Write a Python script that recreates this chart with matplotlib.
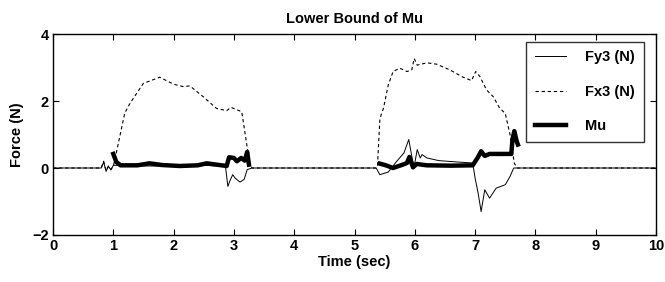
import numpy as np
import matplotlib
matplotlib.use('Agg')
import matplotlib.pyplot as plt

# Fx3 (dashed) - force breakpoints
fx3_t = [0.0, 0.80, 0.84, 0.88, 0.92, 0.96, 1.00, 1.05, 1.19, 1.28, 1.50, 1.61, 1.77,
         2.00, 2.16, 2.27, 2.49, 2.71, 2.88, 2.95, 3.13, 3.21, 3.26, 3.30,
         5.36, 5.38, 5.42, 5.44, 5.48, 5.56, 5.64, 5.75, 5.87, 5.95, 5.99, 6.04,
         6.20, 6.36, 6.58, 6.80, 6.94, 7.01, 7.08, 7.19, 7.30, 7.41, 7.50, 7.58,
         7.65, 7.70, 10.0]
fx3_f = [0.0, 0.0, 0.20, -0.08, 0.06, -0.04, 0.05, 0.45, 1.64, 1.94, 2.53, 2.60, 2.71,
         2.50, 2.43, 2.45, 2.13, 1.78, 1.71, 1.81, 1.68, 0.74, 0.14, 0.0,
         0.0, 0.04, 1.43, 1.58, 1.78, 2.48, 2.88, 2.98, 2.88, 2.93, 3.27, 3.07,
         3.14, 3.10, 2.93, 2.71, 2.61, 2.88, 2.73, 2.33, 2.13, 1.78, 1.63, 0.99,
         0.14, 0.0, 0.0]

# Fy3 (thin solid)
fy3_t = [0.0, 0.80, 0.84, 0.88, 0.92, 0.96, 1.00, 1.10, 1.50, 2.00, 2.50, 2.86,
         2.90, 2.93, 2.98, 3.02, 3.10, 3.17, 3.22, 3.30,
         5.36, 5.42, 5.56, 5.70, 5.82, 5.90, 5.96, 5.99, 6.04, 6.09, 6.12, 6.20,
         6.40, 6.70, 6.96, 7.00, 7.05, 7.10, 7.16, 7.24, 7.35, 7.50, 7.58, 7.64,
         7.70, 10.0]
fy3_f = [0.0, 0.0, 0.18, -0.10, 0.05, -0.06, 0.08, 0.08, 0.06, 0.06, 0.08, 0.05,
         -0.55, -0.40, -0.20, -0.30, -0.42, -0.34, -0.05, 0.0,
         0.0, -0.20, -0.12, 0.20, 0.45, 0.85, 0.25, 0.05, 0.55, 0.30, 0.40, 0.30,
         0.22, 0.18, 0.15, -0.30, -0.75, -1.30, -0.65, -0.90, -0.60, -0.50, -0.25,
         0.0, 0.0, 0.0]

# Mu (thick), defined only while loaded
mu1_t = [1.00, 1.05, 1.12, 1.40, 1.60, 1.80, 2.10, 2.40, 2.55, 2.88, 2.92, 3.00,
         3.05, 3.12, 3.18, 3.22, 3.25]
mu1_f = [0.42, 0.18, 0.08, 0.08, 0.14, 0.09, 0.06, 0.08, 0.14, 0.06, 0.32, 0.30,
         0.20, 0.30, 0.22, 0.48, 0.10]
mu2_t = [5.42, 5.52, 5.64, 5.80, 5.87, 5.91, 5.97, 6.03, 6.20, 6.60, 6.96, 7.04,
         7.10, 7.16, 7.24, 7.40, 7.60, 7.62, 7.65, 7.69, 7.71]
mu2_f = [0.13, 0.08, 0.0, 0.10, 0.15, 0.33, 0.02, 0.12, 0.08, 0.07, 0.08, 0.30,
         0.50, 0.36, 0.42, 0.42, 0.42, 0.85, 1.10, 0.80, 0.70]

time_ticks = list(range(0, 11))
force_ticks = [-2, 0, 2, 4]

plt.rcParams['font.family'] = ['Liberation Sans', 'DejaVu Sans']
plt.rcParams['font.weight'] = 'bold'
plt.rcParams['axes.titleweight'] = 'bold'
plt.rcParams['axes.labelweight'] = 'bold'

fig = plt.figure(figsize=(6.65, 2.82), dpi=100)
ax = fig.add_axes([53 / 665, 1 - 235 / 282, (656 - 53) / 665, (235 - 34) / 282])

mu_t = mu1_t + [np.nan] + mu2_t
mu_f = mu1_f + [np.nan] + mu2_f

ax.plot(fy3_t, fy3_f, color='black', lw=0.7, label='Fy3 (N)')
ax.plot(fx3_t, fx3_f, color='black', lw=0.8, ls=(0, (3, 2.5)), label='Fx3 (N)')
ax.plot(mu_t, mu_f, color='black', lw=3.2, label='Mu')

ax.set_xlim(0, 10)
ax.set_ylim(-2, 4)
ax.set_xticks(time_ticks)
ax.set_yticks(force_ticks)
ax.tick_params(direction='in', top=True, right=True, length=4, width=0.8,
               labelsize=10.5, pad=3)
for s in ax.spines.values():
    s.set_linewidth(1.0)

ax.set_title('Lower Bound of Mu', fontsize=10.5, pad=8)
ax.set_xlabel('Time (sec)', fontsize=10.5, labelpad=1)
ax.set_ylabel('Force (N)', fontsize=10.5, labelpad=6)

leg = ax.legend(loc='upper right', fontsize=10.5, frameon=True, fancybox=False,
                edgecolor='black', handlelength=2.1, borderpad=0.6,
                labelspacing=1.4, borderaxespad=0, handletextpad=1.35,
                bbox_to_anchor=(0.980, 0.962))
leg.get_frame().set_linewidth(1.0)

fig.savefig('out.png', dpi=100)
